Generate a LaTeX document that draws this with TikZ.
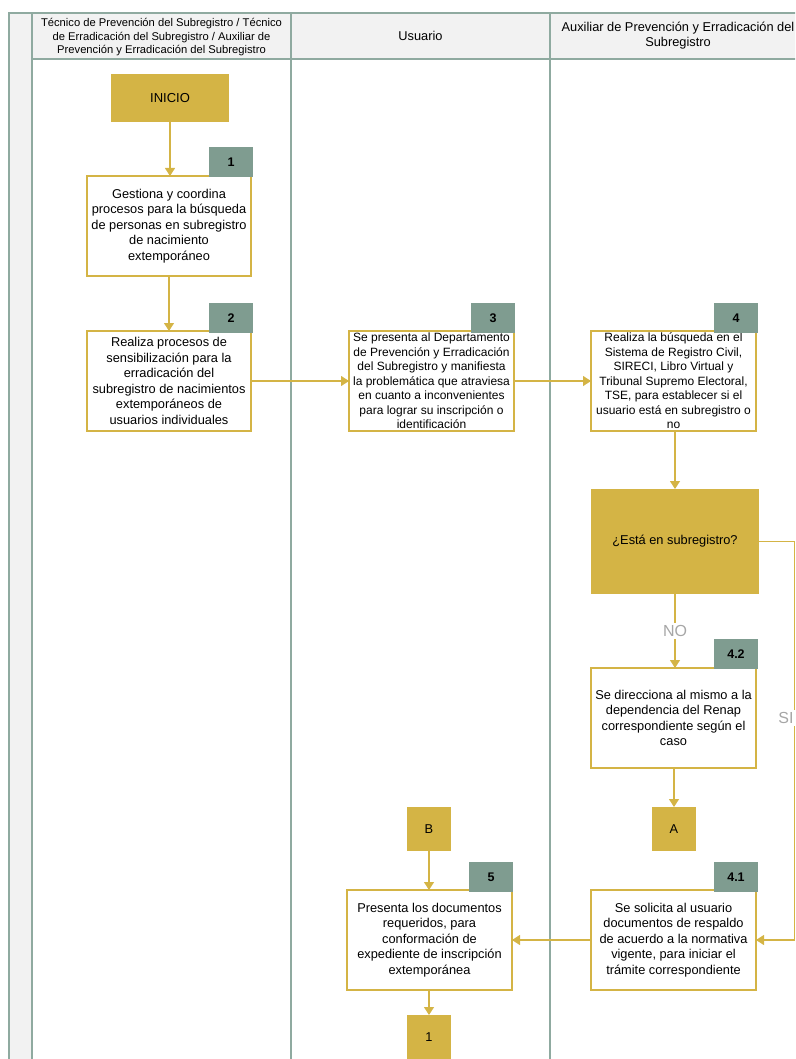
\documentclass[tikz,border=0pt]{standalone}
\usepackage{fontspec}
\setmainfont{Liberation Sans}
\usetikzlibrary{arrows.meta}
\definecolor{gold}{HTML}{D4B445}
\definecolor{badgec}{HTML}{7F9C90}
\definecolor{lanec}{HTML}{8FAAA0}
\definecolor{headc}{HTML}{F2F2F2}
\definecolor{labc}{HTML}{A6A6A6}
\begin{document}
\begin{tikzpicture}[x=1pt,y=-1pt,
  every node/.style={inner sep=0pt, outer sep=0pt},
  procbox/.style={draw=gold, line width=1.5pt, fill=white, align=center,
    minimum width=165pt, minimum height=100pt, font=\fontsize{12.8}{15.5}\selectfont},
  tightbox/.style={procbox, font=\fontsize{12}{14.5}\selectfont},
  badge/.style={fill=badgec, minimum width=44pt, minimum height=30pt,
    font=\fontsize{12.5}{14}\selectfont\bfseries},
  goldbox/.style={fill=gold, minimum width=44pt, minimum height=44pt,
    font=\fontsize{12.8}{14}\selectfont},
  flow/.style={draw=gold, line width=1.2pt, -{Triangle[width=10pt,length=8pt]}},
  lane/.style={draw=lanec, line width=1.8pt},
  cond/.style={fill=white, text=labc, font=\fontsize{16}{18}\selectfont, inner sep=2pt}]
\useasboundingbox (0,0) rectangle (795,1059);
\clip (0,0) rectangle (795,1059);
% pool and lanes
\fill[headc] (9,13) rectangle (800,59);
\fill[headc] (9,13) rectangle (32,1059);
\draw[lane] (9,1059) -- (9,13) -- (800,13);
\draw[lane] (32,13) -- (32,1059);
\draw[lane] (32,59) -- (800,59);
\draw[lane] (291,13) -- (291,1059);
\draw[lane] (550,13) -- (550,1059);
\node[align=center, font=\fontsize{11.2}{13.5}\selectfont] (h1) at (161.5,37.5)
  {Técnico de Prevención del Subregistro / Técnico\\de Erradicación del Subregistro / Auxiliar de\\Prevención y Erradicación del Subregistro};
\node[font=\fontsize{12.8}{15}\selectfont] (h2) at (420.5,36) {Usuario};
\node[align=center, font=\fontsize{12.8}{15}\selectfont] (h3) at (678,36)
  {Auxiliar de Prevención y Erradicación del\\Subregistro};
% nodes
\node[fill=gold, minimum width=118pt, minimum height=48pt, font=\fontsize{13}{15}\selectfont] (inicio) at (170,98) {INICIO};
\node[procbox, minimum width=164pt] (n1) at (169,226)
  {Gestiona y coordina\\procesos para la búsqueda\\de personas en subregistro\\de nacimiento\\extemporáneo};
\node[procbox, minimum width=164pt] (n2) at (169,381)
  {Realiza procesos de\\sensibilización para la\\erradicación del\\subregistro de nacimientos\\extemporáneos de\\usuarios individuales};
\node[tightbox] (n3) at (431.5,381)
  {Se presenta al Departamento\\de Prevención y Erradicación\\del Subregistro y manifiesta\\la problemática que atraviesa\\en cuanto a inconvenientes\\para lograr su inscripción o\\identificación};
\node[tightbox] (n4) at (673.5,381)
  {Realiza la búsqueda en el\\Sistema de Registro Civil,\\SIRECI, Libro Virtual y\\Tribunal Supremo Electoral,\\TSE, para establecer si el\\usuario está en subregistro o\\no};
\node[fill=gold, minimum width=168pt, minimum height=105pt, font=\fontsize{12.8}{14}\selectfont] (dec) at (675,541.5) {¿Está en subregistro?};
\node[procbox] (n42) at (673.5,718)
  {Se direcciona al mismo a la\\dependencia del Renap\\correspondiente según el\\caso};
\node[goldbox] (ca) at (674,829) {A};
\node[goldbox] (cb) at (429,829) {B};
\node[procbox] (n5) at (429.5,940)
  {Presenta los documentos\\requeridos, para\\conformación de\\expediente de inscripción\\extemporánea};
\node[procbox] (n41) at (673.5,940)
  {Se solicita al usuario\\documentos de respaldo\\de acuerdo a la normativa\\vigente, para iniciar el\\trámite correspondiente};
\node[goldbox] (c1) at (429,1037) {1};
% badges
\node[badge] (b1) at (231,162) {1};
\node[badge] (b2) at (231,318) {2};
\node[badge] (b3) at (493,318) {3};
\node[badge] (b4) at (736,318) {4};
\node[badge] (b42) at (736,654) {4.2};
\node[badge] (b5) at (491,877) {5};
\node[badge] (b41) at (736,877) {4.1};
% connectors
\coordinate (sicol) at (794.5,0);
\draw[flow] (inicio.south) -- (inicio.south |- n1.north);
\draw[flow] (n1.south) -- (n2.north);
\draw[flow] (n2.east) -- (n2.east -| n3.west);
\draw[flow] (n3.east) -- (n3.east -| n4.west);
\draw[flow] (dec.north |- n4.south) -- (dec.north);
\draw[flow] (dec.south) -- node[cond] (nolab) {NO} (dec.south |- n42.north);
\draw[flow] (n42.south -| ca.north) -- (ca.north);
\draw[flow] (dec.east) -- (dec.east -| sicol) -- (sicol |- n41.east) -- (n41.east);
\node[cond] (silab) at (786,718) {SI};
\draw[flow] (cb.south) -- (cb.south |- n5.north);
\draw[flow] (n41.west) -- (n41.west -| n5.east);
\draw[flow] (n5.south -| c1.north) -- (c1.north);
\end{tikzpicture}
\end{document}
